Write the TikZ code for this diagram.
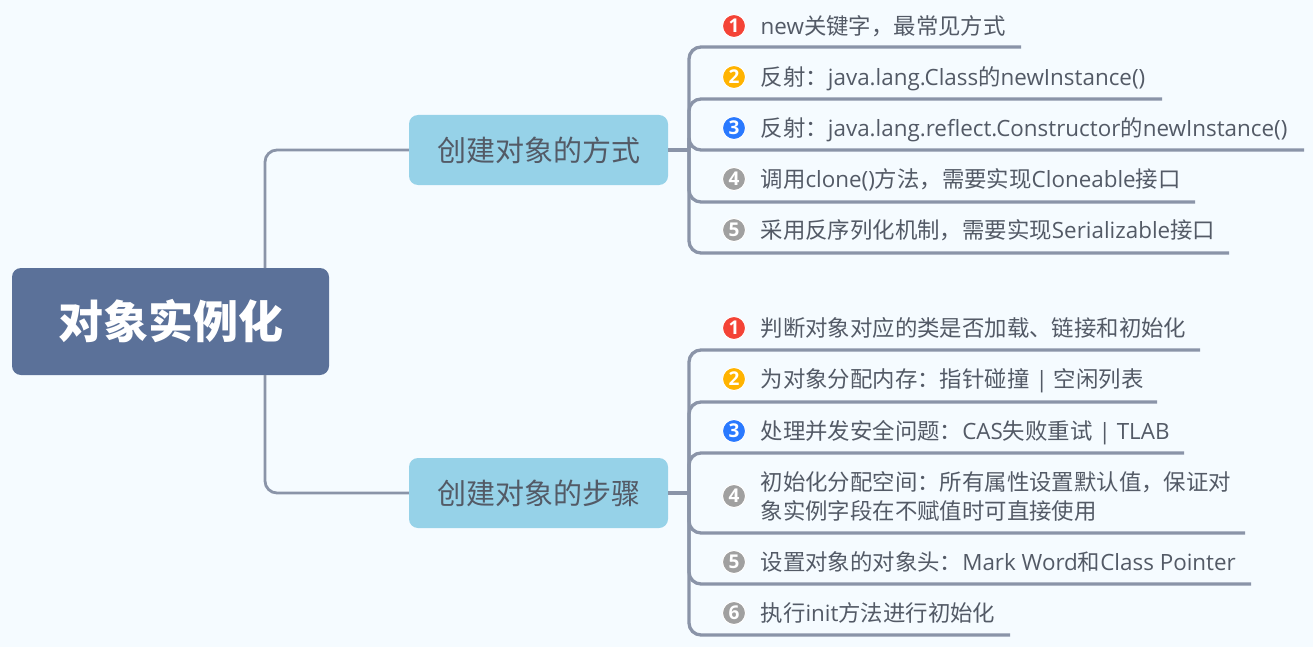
\documentclass[tikz,border=0pt]{standalone}
\usepackage{fontspec}
\setmainfont{Open Sans}
\newfontfamily\zhfont{Noto Sans CJK SC}
\usetikzlibrary{positioning}
\definecolor{bgcol}{HTML}{F5FBFF}
\definecolor{rootcol}{HTML}{5B7199}
\definecolor{branchcol}{HTML}{96D2E8}
\definecolor{linecol}{HTML}{8A94A8}
\definecolor{textcol}{HTML}{535A66}
\definecolor{iconred}{HTML}{F44336}
\definecolor{iconamber}{HTML}{FFB300}
\definecolor{iconblue}{HTML}{2979FF}
\definecolor{icongray}{HTML}{A0A0A0}
\newcommand{\zh}[1]{{\zhfont #1}}
\tikzset{root node/.style={rectangle,rounded corners=9pt,fill=rootcol,text=white,minimum width=317pt,minimum height=107pt,inner sep=0pt,font=\fontsize{45}{50}\selectfont\zhfont\bfseries},
	branch node/.style={rectangle,rounded corners=9pt,fill=branchcol,text=textcol,minimum width=259pt,minimum height=70pt,inner sep=0pt,font=\fontsize{29}{34}\selectfont\zhfont},
	leaf para/.style={text=textcol,inner sep=0pt,align=left,anchor=west,font=\fontsize{22.4}{29}\selectfont},
	leaf node/.style={leaf para,text height=19pt,text depth=2pt},
	icon node/.style={circle,draw=white,line width=1pt,minimum size=23pt,inner sep=0pt,text=white,font=\fontsize{19}{19}\selectfont\bfseries},
	spine/.style={draw=linecol,line width=3.3pt,rounded corners=12pt},
	trunk/.style={draw=linecol,line width=2.8pt,rounded corners=12pt}}

\begin{document}
\begin{tikzpicture}[x=1pt,y=-1pt]
	\fill[bgcol] (0,0) rectangle (1313,647);
	\useasboundingbox (0,0) rectangle (1313,647);

	\node[root node] (root) at (170.5,321.5) {对象实例化};
	\node[branch node] (way) at (538.5,150) {创建对象的方式};
	\node[branch node] (steps) at (538.5,493) {创建对象的步骤};

	% creation ways
	\node[icon node,fill=iconred] (w1) at (734,26) {1};
	\node[icon node,fill=iconamber] (w2) at (734,77) {2};
	\node[icon node,fill=iconblue] (w3) at (734,128) {3};
	\node[icon node,fill=icongray] (w4) at (734,179) {4};
	\node[icon node,fill=icongray] (w5) at (734,230) {5};
	\node[leaf node] (wt1) [right = 14.5pt of w1] {new\zh{关键字，最常见方式}};
	\node[leaf node] (wt2) [right = 14.5pt of w2] {\zh{反射：}java.lang.Class\zh{的}newInstance()};
	\node[leaf node] (wt3) [right = 14.5pt of w3] {\zh{反射：}java.lang.reflect.Constructor\zh{的}newInstance()};
	\node[leaf node] (wt4) [right = 14.5pt of w4] {\zh{调用}clone()\zh{方法，需要实现}Cloneable\zh{接口}};
	\node[leaf node] (wt5) [right = 14.5pt of w5] {\zh{采用反序列化机制，需要实现}Serializable\zh{接口}};

	% creation steps
	\node[icon node,fill=iconred] (s1) at (734,328) {1};
	\node[icon node,fill=iconamber] (s2) at (734,379) {2};
	\node[icon node,fill=iconblue] (s3) at (734,431) {3};
	\node[icon node,fill=icongray] (s4) at (734,496) {4};
	\node[icon node,fill=icongray] (s5) at (734,562) {5};
	\node[icon node,fill=icongray] (s6) at (734,613) {6};
	\node[leaf node] (st1) [right = 14.5pt of s1] {\zh{判断对象对应的类是否加载、链接和初始化}};
	\node[leaf node] (st2) [right = 14.5pt of s2] {\zh{为对象分配内存：指针碰撞}\hspace{6pt}|\hspace{6pt}\zh{空闲列表}};
	\node[leaf node] (st3) [right = 14.5pt of s3] {\zh{处理并发安全问题：}CAS\zh{失败重试}\hspace{6pt}|\hspace{6pt}TLAB};
	\node[leaf para] (st4) [right = 14.5pt of s4] {\zh{初始化分配空间：所有属性设置默认值，保证对}\\\zh{象实例字段在不赋值时可直接使用}};
	\node[leaf node] (st5) [right = 14.5pt of s5] {\zh{设置对象的对象头：}Mark Word\zh{和}Class Pointer};
	\node[leaf node] (st6) [right = 14.5pt of s6] {\zh{执行}init\zh{方法进行初始化}};

	\coordinate (wj) at (689,150);
	\coordinate (sj) at (689,493);
	\coordinate (we1) at (1021,47);
	\coordinate (we2) at (1162,99);
	\coordinate (we3) at (1304,150);
	\coordinate (we4) at (1195,202);
	\coordinate (we5) at (1229,253);
	\coordinate (se1) at (1200,350);
	\coordinate (se2) at (1157,402);
	\coordinate (se3) at (1184,453);
	\coordinate (se4) at (1245,533);
	\coordinate (se5) at (1251,584);
	\coordinate (se6) at (1010,635);
	\coordinate (rt) at (265,268);
	\coordinate (rb) at (265,375);

	\draw[trunk] (rt) |- (way.west);
	\draw[trunk] (rb) |- (steps.west);
	\draw[spine] (way.east) -- (wj);
	\draw[spine] (steps.east) -- (sj);
	\foreach \e in {we1,we2,we3,we4,we5}
		\draw[spine] (wj) |- (\e);
	\foreach \e in {se1,se2,se3,se4,se5,se6}
		\draw[spine] (sj) |- (\e);
\end{tikzpicture}
\end{document}
